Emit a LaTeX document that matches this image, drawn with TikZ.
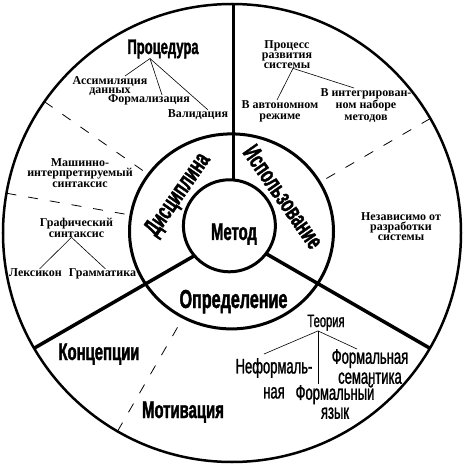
\documentclass[tikz,border=0pt]{standalone}
\usepackage{fontspec}
\setmainfont{Liberation Serif}
\newfontfamily\condfont{Liberation Sans}[FakeStretch=0.62, FakeBold=1.5]
\newfontfamily\medfont{Liberation Sans}[FakeStretch=0.62, FakeBold=1.2]
\newfontfamily\notefont{Liberation Serif}
\usetikzlibrary{positioning}

\tikzset{
  heading/.style={font=\condfont\bfseries\fontsize{#1}{#1}\selectfont, inner sep=0pt},
  plainlbl/.style={font=\medfont\fontsize{21}{#1}\selectfont, align=center, inner sep=0pt},
  note/.style={font=\notefont\bfseries\fontsize{12}{#1}\selectfont, align=center, inner sep=0pt},
  twig/.style={line width=0.6pt},
  ringline/.style={line width=3pt},
  spoke/.style={line width=3.5pt},
  sector/.style={line width=0.8pt, dash pattern=on 10pt off 12pt}
}

\begin{document}
\begin{tikzpicture}[x=1pt, y=1pt]
  \useasboundingbox (-232,-232) rectangle (232,233);

  % dashed borders inside the outer ring
  \foreach \a in {30,145,170,240}
    \draw[sector] (\a:229) -- (\a:101);

  % three spokes
  \foreach \a in {210,330}
    \draw[spoke] (0,-1) -- ++(\a:229);
  \draw[spoke] (1.5,0) -- (1.5,229);

  % rings
  \draw[ringline] (-0.5,1.6) ellipse [x radius=102pt, y radius=97.5pt];
  \draw[ringline, fill=white] (-2.6,7.2) circle (46pt);
  \draw[line width=2.5pt] (0,0) circle (229pt);

  % centre and middle ring
  \node[heading=24, anchor=base] (metod) at (2,-7) {Метод};
  \node[heading=25, rotate=55] (disc) at (-53.7,38) {Дисциплина};
  \node[heading=25, rotate=-55] (isp) at (51.3,36.3) {Использование};
  \node[heading=26, anchor=base] (opred) at (1.5,-75) {Определение};

  % upper left sector
  \node[heading=21, anchor=base] (proc) at (-69,179) {Процедура};
  \node[note=9, anchor=north] (assim) at (-122,157) {Ассимиляция\\данных};
  \node[note=10, anchor=base] (formal) at (-83,130) {Формализация};
  \node[note=10, anchor=base] (valid) at (-34,115) {Валидация};
  \coordinate (procfoot) at ([xshift=-13pt]proc.south);
  \draw[twig] (procfoot) -- ([xshift=15pt]assim.north);
  \draw[twig] (procfoot) -- ([xshift=13pt]formal.north);
  \draw[twig] (procfoot) -- ([xshift=10pt]valid.north);

  \node[note=10.5, anchor=north] (mash) at (-152,75) {Машинно-\\интерпретируемый\\синтаксис};
  \node[note=10.5, anchor=north] (graf) at (-155.5,15) {Графический\\синтаксис};
  \node[note=10, anchor=base] (lex) at (-196.5,-44) {Лексикон};
  \node[note=10, anchor=base] (gram) at (-129.5,-44) {Грамматика};
  \draw[twig] ([xshift=-5pt]graf.south) -- ([xshift=4pt]lex.north);
  \draw[twig] ([xshift=-5pt]graf.south) -- ([xshift=3pt]gram.north);

  % upper right sector
  \node[note=10, anchor=north] (razv) at (55,193) {Процесс\\развития\\системы};
  \node[note=11, anchor=north] (avto) at (48,133) {В автономном\\режиме};
  \node[note=12, anchor=north] (integ) at (134,145) {В интегрирован-\\ном наборе\\методов};
  \draw[twig] ([xshift=6pt]razv.south) -- ([xshift=-3pt]avto.north);
  \draw[twig] ([xshift=6pt]razv.south) -- ([xshift=-12pt]integ.north);

  \node[note=10, anchor=north] (nezav) at (169,21) {Независимо от\\разработки\\системы};

  % lower sector
  \node[heading=24, anchor=base] (konc) at (-133,-127) {Концепции};
  \node[heading=24, anchor=base] (motiv) at (-49,-185) {Мотивация};
  \node[font=\medfont\fontsize{18}{18}\selectfont, inner sep=0pt, anchor=base] (teor) at (94,-94) {Теория};
  \node[plainlbl=25, anchor=north] (neform) at (42,-125) {Неформаль-\\ная};
  \node[plainlbl=20, anchor=north] (fsem) at (138,-116) {Формальная\\семантика};
  \node[plainlbl=19, anchor=north] (fyaz) at (103,-151) {Формальный\\язык};
  \draw[twig] ([xshift=-8pt]teor.south) -- ([xshift=-10pt,yshift=4pt]neform.north);
  \draw[twig] ([xshift=-8pt]teor.south) -- ([xshift=-17pt]fyaz.north);
  \draw[twig] ([xshift=-8pt]teor.south) -- ([xshift=-13pt]fsem.north);
\end{tikzpicture}
\end{document}
